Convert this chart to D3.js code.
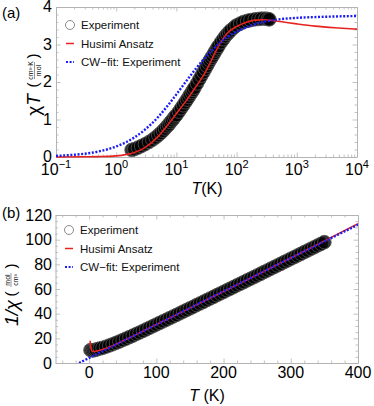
<!DOCTYPE html>
<html>
<head>
<meta charset="utf-8">
<script src="https://cdn.jsdelivr.net/npm/d3@7"></script>
<style>
  body { margin: 0; background: #fff; }
  svg { display: block; font-family: "Liberation Sans", Arial, sans-serif; }
</style>
</head>
<body>
<div id="chart"></div>
<script>
// ---- panel (a): chi*T vs T (log axis) ----
const expA_T    = [1.8, 2, 2.3, 2.6, 3, 3.5, 4, 4.5, 5, 5.5, 6, 6.5, 7, 7.5, 8, 8.5, 9, 9.5, 10, 11, 12, 13, 14, 15, 16, 17, 18, 19, 20, 22, 24, 26, 28, 30, 32, 34, 36, 38, 40, 42.5, 45, 47.5, 50, 55, 60, 65, 70, 75, 80, 90, 100, 115, 130, 150, 170, 200, 230, 260, 300, 330, 350];
const expA_chiT = [0.19, 0.21, 0.25, 0.29, 0.34, 0.4, 0.46, 0.52, 0.58, 0.64, 0.7, 0.76, 0.82, 0.87, 0.93, 0.98, 1.03, 1.08, 1.12, 1.21, 1.3, 1.38, 1.46, 1.53, 1.6, 1.67, 1.73, 1.79, 1.85, 1.96, 2.07, 2.17, 2.26, 2.35, 2.43, 2.51, 2.58, 2.64, 2.7, 2.77, 2.84, 2.9, 2.96, 3.06, 3.14, 3.22, 3.28, 3.33, 3.38, 3.45, 3.51, 3.56, 3.6, 3.63, 3.65, 3.67, 3.68, 3.69, 3.69, 3.68, 3.67];
const husA_T    = [0.1, 0.3, 0.5, 1, 1.5, 2, 3, 5, 7, 10, 15, 20, 30, 50, 70, 100, 150, 200, 300, 400, 600, 1000, 2000, 5000, 10000];
const husA_chiT = [0, 0.005, 0.01, 0.03, 0.07, 0.12, 0.25, 0.55, 0.83, 1.16, 1.53, 1.82, 2.25, 2.95, 3.3, 3.48, 3.6, 3.65, 3.66, 3.64, 3.6, 3.55, 3.49, 3.44, 3.41];
const cwA_T     = [0.1, 0.2, 0.5, 1, 2, 3, 5, 7, 10, 15, 20, 30, 50, 70, 100, 200, 500, 1000, 3000, 10000];
const cwA_chiT  = [0.03, 0.06, 0.145, 0.28, 0.52, 0.73, 1.07, 1.35, 1.67, 2.05, 2.31, 2.65, 3.01, 3.2, 3.34, 3.54, 3.67, 3.71, 3.74, 3.76];

// ---- panel (b): 1/chi vs T ----
const expB_T      = [2, 4, 6, 8, 10, 13, 16, 20, 25, 30, 35, 40, 45, 50, 55, 60, 65, 70, 75, 80, 85, 90, 95, 100, 105, 110, 115, 120, 125, 130, 135, 140, 145, 150, 155, 160, 165, 170, 175, 180, 185, 190, 195, 200, 205, 210, 215, 220, 225, 230, 235, 240, 245, 250, 255, 260, 265, 270, 275, 280, 285, 290, 295, 300, 305, 310, 315, 320, 325, 330, 335, 340, 345, 350];
const expB_invChi = [10.5, 10.3, 10.3, 10.5, 10.8, 11.3, 11.8, 12.3, 13.2, 14.2, 15.2, 16.3, 17.4, 18.6, 19.8, 21.0, 22.2, 23.5, 24.7, 26.0, 27.3, 28.6, 29.9, 31.2, 32.5, 33.8, 35.1, 36.4, 37.7, 39.0, 40.3, 41.7, 43.0, 44.3, 45.6, 47.0, 48.3, 49.6, 51.0, 52.3, 53.6, 55.0, 56.3, 57.6, 59.0, 60.3, 61.6, 63.0, 64.3, 65.6, 67.0, 68.3, 69.6, 71.0, 72.3, 73.7, 75.0, 76.4, 77.7, 79.1, 80.4, 81.8, 83.1, 84.5, 85.8, 87.2, 88.5, 89.9, 91.2, 92.6, 93.9, 95.3, 96.6, 98.0];
const husB_T      = [1.5, 2, 3, 5, 8, 12, 20, 30, 40, 50, 70, 100, 150, 200, 250, 300, 350, 400];
const husB_invChi = [18, 14.5, 11.5, 9.5, 9.3, 9.8, 11, 12.9, 15.3, 17.8, 23, 31.2, 44.5, 58, 71.5, 85.2, 99, 113];
const cwB_T       = [-15, 0, 100, 200, 300, 400];
const cwB_invChi  = [0, 4.1, 31.1, 58.1, 85.1, 112.1];

// ticks and labels
const logTicks = [0.1, 1, 10, 100, 1000, 10000];
const logTickExponents = ["\u22121", "0", "1", "2", "3", "4"];
const yTicksA = [0, 1, 2, 3, 4];
const xTicksB = [0, 100, 200, 300, 400];
const yTicksB = [0, 20, 40, 60, 80, 100, 120];
const legendLabels = ["Experiment", "Husimi Ansatz", "CW\u2212fit: Experiment"];

const width = 374, height = 406;
const frameColor = "#b4b4b4";
const redColor = "#e8231f";
const blueColor = "#1c1cf5";

const svg = d3.select("#chart").append("svg")
    .attr("width", width)
    .attr("height", height);

// Draw a Mathematica-like frame with inward ticks on all four sides
function drawFrame(g, x, y, xMajor, xMinor, yMajor, yMinor) {
    const [y0, y1] = y.range();
    const [x0, x1] = x.range();
    const sides = [
        { axis: d3.axisBottom, scale: x, t: `translate(0,${y0})`, major: xMajor, minor: xMinor },
        { axis: d3.axisTop, scale: x, t: `translate(0,${y1})`, major: xMajor, minor: xMinor },
        { axis: d3.axisLeft, scale: y, t: `translate(${x0},0)`, major: yMajor, minor: yMinor },
        { axis: d3.axisRight, scale: y, t: `translate(${x1},0)`, major: yMajor, minor: yMinor }
    ];
    sides.forEach(s => {
        g.append("g").attr("transform", s.t)
            .call(s.axis(s.scale).tickValues(s.minor).tickSize(-2.5).tickSizeOuter(0).tickFormat(""))
            .call(a => a.select(".domain").remove());
        g.append("g").attr("transform", s.t)
            .call(s.axis(s.scale).tickValues(s.major).tickSize(-4.5).tickSizeOuter(0).tickFormat(""));
    });
    g.selectAll(".domain").attr("stroke", frameColor);
    g.selectAll(".tick line").attr("stroke", frameColor).attr("stroke-width", 0.8);
}

function drawLegend(g, lx, ly, dy) {
    legendLabels.forEach((label, i) => {
        const yy = ly + i * dy;
        if (i === 0) {
            g.append("circle").attr("cx", lx + 4).attr("cy", yy).attr("r", 4.5)
                .attr("fill", "none").attr("stroke", "#8a8a8a").attr("stroke-width", 1);
        } else {
            g.append("line").attr("x1", lx).attr("x2", lx + 8).attr("y1", yy).attr("y2", yy)
                .attr("stroke", i === 1 ? redColor : blueColor)
                .attr("stroke-width", i === 1 ? 1.5 : 2.2)
                .attr("stroke-dasharray", i === 1 ? null : "2,1.6");
        }
        g.append("text").attr("x", lx + 15).attr("y", yy + 4)
            .attr("font-size", "11.5px").attr("fill", "#111").text(label);
    });
}

function drawSeries(g, x, y, expT, expV, husT, husV, cwT, cwV, clipId) {
    const plot = g.append("g").attr("clip-path", `url(#${clipId})`);
    plot.selectAll(".exp")
        .data(expT.map((t, i) => [t, expV[i]]))
        .enter().append("circle")
        .attr("cx", d => x(d[0]))
        .attr("cy", d => y(d[1]))
        .attr("r", 6.8)
        .attr("fill", "#000").attr("fill-opacity", 0.8)
        .attr("stroke", "#555").attr("stroke-opacity", 0.8).attr("stroke-width", 1);

    const line = d3.line().x(d => x(d[0])).y(d => y(d[1])).curve(d3.curveMonotoneX);
    plot.append("path")
        .datum(husT.map((t, i) => [t, husV[i]]))
        .attr("d", line).attr("fill", "none")
        .attr("stroke", redColor).attr("stroke-width", 1.6);
    plot.append("path")
        .datum(cwT.map((t, i) => [t, cwV[i]]))
        .attr("d", line).attr("fill", "none")
        .attr("stroke", blueColor).attr("stroke-width", 2.4)
        .attr("stroke-dasharray", "2,1.6");
}

const defs = svg.append("defs");

// ===== Panel (a) =====
const xA = d3.scaleLog().domain([0.1, 10000]).range([56, 357]);
const yA = d3.scaleLinear().domain([0, 4]).range([157, 7]);
defs.append("clipPath").attr("id", "clipA").append("rect")
    .attr("x", 56).attr("y", 0).attr("width", 301).attr("height", 158);

const gA = svg.append("g");
const minorLogTicks = [];
logTicks.slice(0, -1).forEach(d => { for (let k = 2; k <= 9; k++) minorLogTicks.push(d * k); });
const minorYA = d3.range(0, 4.01, 0.2).filter(v => Math.abs(v - Math.round(v)) > 1e-6);
drawFrame(gA, xA, yA, logTicks, minorLogTicks, yTicksA, minorYA);
drawSeries(gA, xA, yA, expA_T, expA_chiT, husA_T, husA_chiT, cwA_T, cwA_chiT, "clipA");
drawLegend(gA, 66, 25, 18.5);

// x tick labels with superscript exponents
gA.selectAll(".xlab")
    .data(logTicks)
    .enter().append("text")
    .attr("x", d => xA(d))
    .attr("y", 175)
    .attr("text-anchor", "middle")
    .attr("font-size", "16px")
    .each(function (d, i) {
        const t = d3.select(this);
        t.append("tspan").text("10");
        t.append("tspan").attr("dy", -7).attr("font-size", "11px").text(logTickExponents[i]);
    });

gA.selectAll(".ylab")
    .data(yTicksA)
    .enter().append("text")
    .attr("x", 52)
    .attr("y", d => yA(d))
    .attr("dy", "0.34em")
    .attr("text-anchor", "end")
    .attr("font-size", "16px")
    .text(d => d);

const titleA = gA.append("text").attr("x", 207).attr("y", 194)
    .attr("text-anchor", "middle").attr("font-size", "16px");
titleA.append("tspan").attr("font-style", "italic").text("T");
titleA.append("tspan").text("(K)");

// y axis title: chi T (cm^3 K / mol)
const yTitleA = gA.append("g").attr("transform", "translate(34,85) rotate(-90)");
const chiT = yTitleA.append("text").attr("x", -20).attr("y", 6)
    .attr("text-anchor", "middle").attr("font-size", "19px");
chiT.append("tspan").text("\u03c7");
chiT.append("tspan").attr("font-style", "italic").text("T");
yTitleA.append("text").attr("x", 0).attr("y", 4).attr("text-anchor", "middle")
    .attr("font-size", "15px").text("(");
yTitleA.append("text").attr("x", 29).attr("y", 4).attr("text-anchor", "middle")
    .attr("font-size", "15px").text(")");
yTitleA.append("text").attr("x", 14.5).attr("y", -1.5).attr("text-anchor", "middle")
    .attr("font-size", "7px").text("cm\u00b3\u00b7K");
yTitleA.append("line").attr("x1", 6).attr("x2", 23).attr("y1", 0.5).attr("y2", 0.5)
    .attr("stroke", "#333").attr("stroke-width", 0.5);
yTitleA.append("text").attr("x", 14.5).attr("y", 6.5).attr("text-anchor", "middle")
    .attr("font-size", "7px").text("mol");

svg.append("text").attr("x", 2).attr("y", 18).attr("font-size", "15px").text("(a)");

// ===== Panel (b) =====
const xB = d3.scaleLinear().domain([-50, 400]).range([55.5, 358]);
const yB = d3.scaleLinear().domain([0, 120]).range([363, 215]);
defs.append("clipPath").attr("id", "clipB").append("rect")
    .attr("x", 55.5).attr("y", 215).attr("width", 302.5).attr("height", 148);

const gB = svg.append("g");
const minorXB = d3.range(-40, 400, 20).filter(v => v % 100 !== 0);
const minorYB = d3.range(5, 120, 5).filter(v => v % 20 !== 0);
drawFrame(gB, xB, yB, xTicksB, minorXB, yTicksB, minorYB);
drawSeries(gB, xB, yB, expB_T, expB_invChi, husB_T, husB_invChi, cwB_T, cwB_invChi, "clipB");
drawLegend(gB, 65, 230, 18.5);

gB.selectAll(".xlab")
    .data(xTicksB)
    .enter().append("text")
    .attr("x", d => xB(d))
    .attr("y", 378)
    .attr("text-anchor", "middle")
    .attr("font-size", "16px")
    .text(d => d);

gB.selectAll(".ylab")
    .data(yTicksB)
    .enter().append("text")
    .attr("x", 52)
    .attr("y", d => yB(d))
    .attr("dy", "0.36em")
    .attr("text-anchor", "end")
    .attr("font-size", "16px")
    .text(d => d);

const titleB = gB.append("text").attr("x", 207).attr("y", 401)
    .attr("text-anchor", "middle").attr("font-size", "16px");
titleB.append("tspan").attr("font-style", "italic").text("T");
titleB.append("tspan").text(" (K)");

// y axis title: 1/chi (mol / cm^3)
const yTitleB = gB.append("g").attr("transform", "translate(12,294) rotate(-90)");
yTitleB.append("text").attr("x", -19).attr("y", 6).attr("text-anchor", "middle")
    .attr("font-size", "19px").attr("font-style", "italic").text("1/\u03c7");
yTitleB.append("text").attr("x", 0).attr("y", 4).attr("text-anchor", "middle")
    .attr("font-size", "15px").text("(");
yTitleB.append("text").attr("x", 28).attr("y", 4).attr("text-anchor", "middle")
    .attr("font-size", "15px").text(")");
yTitleB.append("text").attr("x", 14).attr("y", -2.5).attr("text-anchor", "middle")
    .attr("font-size", "7px").text("mol");
yTitleB.append("line").attr("x1", 7).attr("x2", 21).attr("y1", -1).attr("y2", -1)
    .attr("stroke", "#333").attr("stroke-width", 0.5);
yTitleB.append("text").attr("x", 14).attr("y", 6).attr("text-anchor", "middle")
    .attr("font-size", "7px").text("cm\u00b3");

svg.append("text").attr("x", 2).attr("y", 218).attr("font-size", "15px").text("(b)");
</script>
</body>
</html>
